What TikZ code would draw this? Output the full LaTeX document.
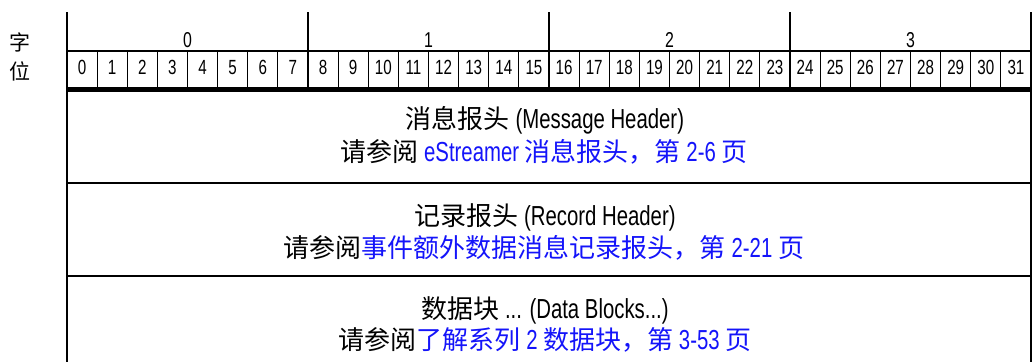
\documentclass[tikz,border=0pt]{standalone}
\usepackage{fontspec}
\setmainfont{Liberation Sans}[FakeStretch=0.74]
\newfontfamily\cjk{Noto Sans CJK SC}
\newcommand\zh[1]{{\fontsize{26}{30}\cjk #1}}
\definecolor{linkblue}{RGB}{20,20,250}
\begin{document}
\begin{tikzpicture}[x=1pt,y=-1pt,
  frame/.style={line width=2pt},
  thin/.style={line width=0.9pt},
  bar/.style={line width=4.8pt},
  bitnum/.style={inner sep=0pt,font=\fontsize{20.5}{22}\selectfont},
  bytenum/.style={inner sep=0pt,font=\fontsize{21.5}{23}\selectfont},
  side/.style={inner sep=0pt,font=\fontsize{21}{24}\cjk},
  txt/.style={inner sep=0pt,font=\fontsize{27.5}{30}\selectfont}]
\useasboundingbox (0,0) rectangle (1032,362);
\fill[white] (0,0) rectangle (1032,362);
% left labels
\node[side] (zi) at (20,42) {字};
\node[side] (wei) at (20,71) {位};
% frame
\draw[frame] (67,12) -- (67,362);
\draw[frame] (1031,12) -- (1031,362);
\draw[frame] (67,50.5) -- (1031,50.5);
\draw[bar] (67,89.5) -- (1031,89.5);
\foreach \b in {1,2,3} {
  \draw[frame] ({67+\b*8*30.125},12) -- ({67+\b*8*30.125},88);
}
\foreach \i in {1,...,31} {
  \draw[thin] ({67+\i*30.125},50) -- ({67+\i*30.125},88);
}
\foreach \i in {0,...,31} {
  \node[bitnum] (bit\i) at ({67+(\i+0.5)*30.125},67.5) {\i};
}
\foreach \b in {0,...,3} {
  \node[bytenum] (byte\b) at ({67+(\b*8+4)*30.125},40) {\b};
}
% row dividers
\draw[frame] (67,183) -- (1031,183);
\draw[frame] (67,276) -- (1031,276);
% row texts
\node[txt] (r1a) at (545,120.5) {\zh{消息报头} (Message Header)};
\node[txt] (r1b) at (544,151.5) {\zh{请参阅} \textcolor{linkblue}{eStreamer \zh{消息报头，第} 2-6 \zh{页}}};
\node[txt] (r2a) at (545,217) {\zh{记录报头} (Record Header)};
\node[txt] (r2b) at (544,247.5) {\zh{请参阅}\textcolor{linkblue}{\zh{事件额外数据消息记录报头，第} 2-21 \zh{页}}};
\node[txt] (r3a) at (545,310) {\zh{数据块} ... (Data Blocks...)};
\node[txt] (r3b) at (545,339.5) {\zh{请参阅}\textcolor{linkblue}{\zh{了解系列} 2 \zh{数据块，第} 3-53 \zh{页}}};
\end{tikzpicture}
\end{document}
